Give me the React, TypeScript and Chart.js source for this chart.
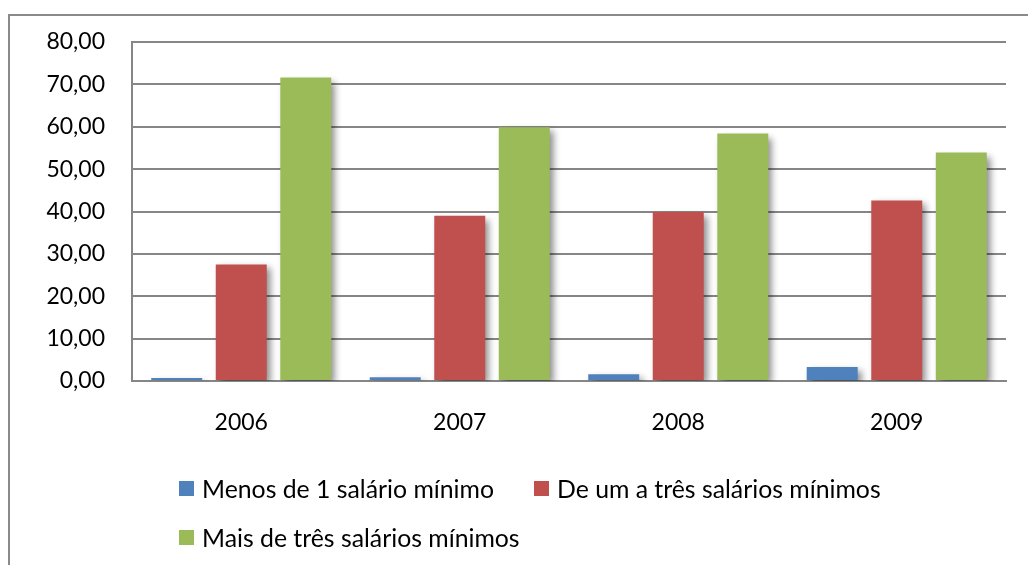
import React, { useEffect, useRef } from "react";
import { Chart, registerables } from "chart.js";

Chart.register(...registerables);

const categories = ["2006", "2007", "2008", "2009"];
const seriesNames = [
  "Menos de 1 salário mínimo",
  "De um a três salários mínimos",
  "Mais de três salários mínimos",
];
const menosDe1 = [0.7, 0.9, 1.6, 3.3];
const deUmATres = [27.5, 39.0, 39.9, 42.6];
const maisDeTres = [71.6, 59.9, 58.4, 53.9];
const colors = ["#4F81BD", "#C0504D", "#9BBB59"];
const yTicks = [0, 10, 20, 30, 40, 50, 60, 70, 80];

const FONT = "Lato, 'Open Sans', sans-serif";

const shadowPlugin = {
  id: "barShadow",
  beforeDatasetDraw(chart: any) {
    const ctx = chart.ctx;
    ctx.save();
    ctx.shadowColor = "rgba(0,0,0,0.45)";
    ctx.shadowBlur = 7;
    ctx.shadowOffsetX = 4;
    ctx.shadowOffsetY = 4;
  },
  afterDatasetDraw(chart: any) {
    chart.ctx.restore();
  },
};

export default function App() {
  const ref = useRef<HTMLCanvasElement | null>(null);

  useEffect(() => {
    document.body.style.margin = "0";
    const seriesValues = [menosDe1, deUmATres, maisDeTres];
    const chart = new Chart(ref.current as HTMLCanvasElement, {
      type: "bar",
      data: {
        labels: categories,
        datasets: seriesNames.map((name, i) => ({
          label: name,
          data: seriesValues[i],
          backgroundColor: colors[i],
          borderWidth: 0,
          categoryPercentage: 0.886,
          barPercentage: 0.79,
        })),
      },
      plugins: [shadowPlugin],
      options: {
        animation: false,
        responsive: false,
        maintainAspectRatio: false,
        layout: { padding: { top: 42, right: 22, left: 0, bottom: 0 } },
        plugins: {
          legend: { display: false },
          tooltip: { enabled: false },
        },
        scales: {
          x: {
            grid: { display: false, drawTicks: false },
            border: { display: true, color: "#868686", width: 2 },
            ticks: {
              color: "#000",
              font: { family: FONT, size: 23 },
              padding: 28,
              maxRotation: 0,
            },
            afterFit: (scale: any) => {
              scale.height = 565 - 381;
            },
          },
          y: {
            min: 0,
            max: 80,
            afterBuildTicks: (scale: any) => {
              scale.ticks = yTicks.map((v) => ({ value: v }));
            },
            grid: { color: "#868686", lineWidth: 2, drawTicks: false },
            border: { display: true, color: "#868686", width: 2 },
            ticks: {
              color: "#000",
              font: { family: FONT, size: 23 },
              padding: 27,
              callback: (v: any) => Number(v).toFixed(2).replace(".", ","),
            },
            afterFit: (scale: any) => {
              scale.width = 132;
            },
          },
        },
      },
    });
    return () => chart.destroy();
  }, []);

  return (
    <div
      style={{
        position: "absolute",
        left: 0,
        top: 0,
        width: 1028,
        height: 565,
        overflow: "hidden",
        background: "#fff",
        fontFamily: FONT,
      }}
    >
      <div
        style={{
          position: "absolute",
          left: 8,
          top: 14,
          width: 1100,
          height: 700,
          borderLeft: "2px solid #8a8a8a",
          borderTop: "2px solid #8a8a8a",
        }}
      />
      <canvas
        ref={ref}
        width={1028}
        height={565}
        style={{ position: "absolute", left: 0, top: 0, width: 1028, height: 565 }}
      />
      <div
        style={{
          position: "absolute",
          left: 179,
          top: 464,
          width: 720,
          display: "flex",
          flexWrap: "wrap",
        }}
      >
        {seriesNames.map((name, i) => (
          <div
            key={name}
            style={{
              width: 355,
              height: 49,
              display: "flex",
              alignItems: "center",
              fontSize: 24.8,
              color: "#000",
              whiteSpace: "nowrap",
            }}
          >
            <span
              style={{
                display: "inline-block",
                width: 15,
                height: 15,
                background: colors[i],
                marginRight: 8,
                flexShrink: 0,
              }}
            />
            {name}
          </div>
        ))}
      </div>
    </div>
  );
}
